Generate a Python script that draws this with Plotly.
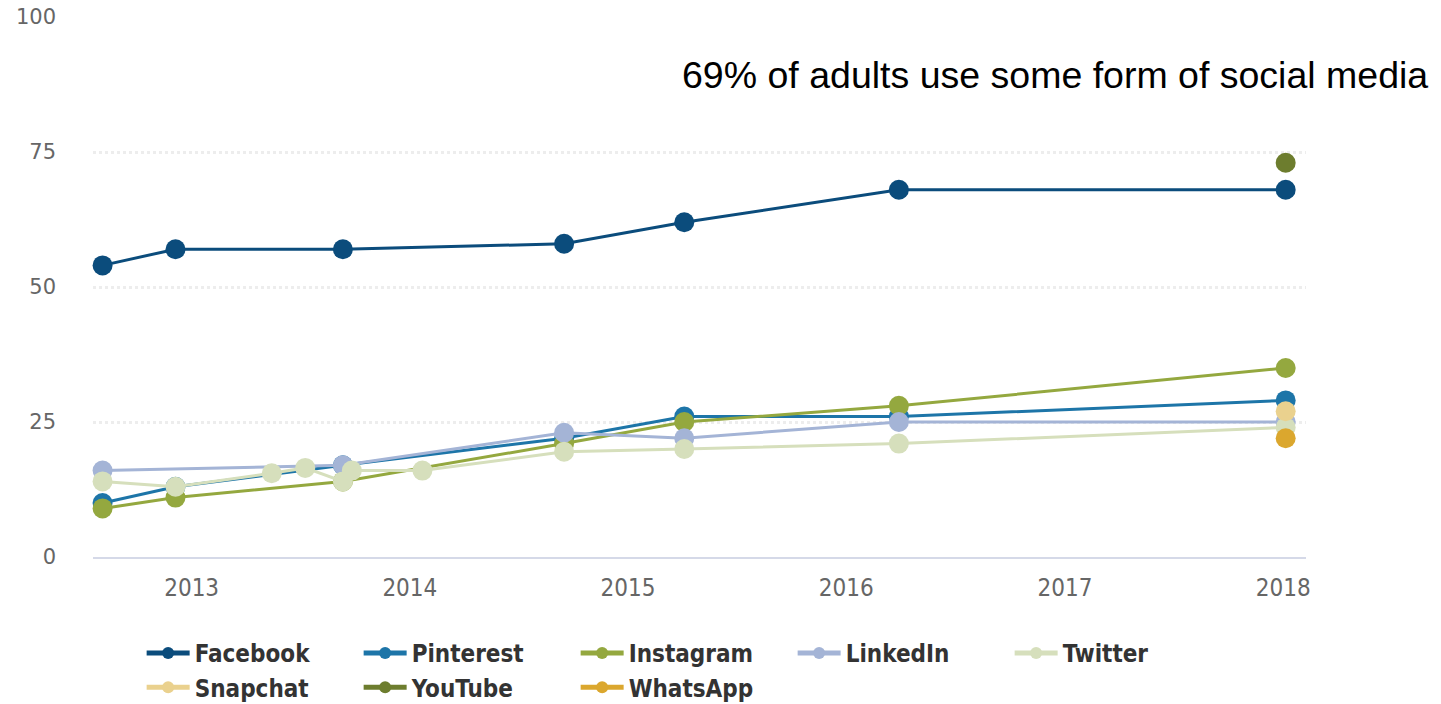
import plotly.graph_objects as go

# ---- data ----
main_dates = ["2012-08-05", "2012-12-05", "2013-09-11", "2014-09-16", "2015-04-05", "2016-03-29", "2018-01-05"]
facebook = [54, 57, 57, 58, 62, 68, 68]
pinterest = [10, 13, 17, 22, 26, 26, 29]
instagram = [9, 11, 14, 21, 25, 28, 35]

linkedin_dates = ["2012-08-05", "2013-09-11", "2014-09-16", "2015-04-05", "2016-03-29", "2018-01-05"]
linkedin = [16, 17, 23, 22, 25, 25]

twitter_dates = ["2012-08-05", "2012-12-05", "2013-05-15", "2013-07-10", "2013-09-11", "2013-09-26",
                 "2014-01-22", "2014-09-16", "2015-04-05", "2016-03-29", "2018-01-05"]
twitter = [14, 13, 15.5, 16.5, 14, 16, 16, 19.5, 20, 21, 24]

single_dates = ["2018-01-05"]
snapchat = [27]
youtube = [73]
whatsapp = [22]

year_ticks = ["2013-01-01", "2014-01-01", "2015-01-01", "2016-01-01", "2017-01-01", "2018-01-01"]
year_labels = ["2013", "2014", "2015", "2016", "2017", "2018"]
y_ticks = [0, 25, 50, 75, 100]

series = [
    ("Facebook", main_dates, facebook, "#0b4c7c"),
    ("Pinterest", main_dates, pinterest, "#1d75a8"),
    ("Instagram", main_dates, instagram, "#94a83f"),
    ("LinkedIn", linkedin_dates, linkedin, "#a4b4d6"),
    ("Twitter", twitter_dates, twitter, "#d6dfbc"),
    ("Snapchat", single_dates, snapchat, "#ead18e"),
    ("YouTube", single_dates, youtube, "#6d7d2e"),
    ("WhatsApp", single_dates, whatsapp, "#dba72e"),
]

fig = go.Figure()
for name, xs, ys, color in series:
    fig.add_trace(go.Scatter(
        x=xs, y=ys, name=name, mode="lines+markers",
        line=dict(color=color, width=3),
        marker=dict(color=color, size=20),
        cliponaxis=False,
    ))

fig.update_layout(
    width=1441, height=704,
    margin=dict(l=93, r=135, t=17, b=147, autoexpand=False),
    paper_bgcolor="white", plot_bgcolor="white",
    showlegend=True,
    legend=dict(
        orientation="h", x=0.0401, xanchor="left", y=-0.137, yanchor="top",
        font=dict(family="DejaVu Sans Condensed, DejaVu Sans", size=24, color="#333333", weight="bold"),
        entrywidth=159, entrywidthmode="pixels",
        itemwidth=43,
        itemsizing="constant",
    ),
    xaxis=dict(
        type="date",
        range=["2012-07-20", "2018-02-08"],
        tickvals=year_ticks, ticktext=year_labels,
        showgrid=False, zeroline=False,
        showline=True, linecolor="#d5d9e8", linewidth=2,
        ticks="", ticklabelstandoff=8,
        tickfont=dict(family="DejaVu Sans Condensed, DejaVu Sans", size=24, color="#666666"),
    ),
    yaxis=dict(
        range=[0, 100], tickvals=y_ticks,
        showgrid=True, gridcolor="#ededed", gridwidth=3, griddash="dot",
        zeroline=False, showline=False, ticks="",
        ticklabelstandoff=36,
        tickfont=dict(family="DejaVu Sans", size=21, color="#666666"),
    ),
    annotations=[dict(
        text="69% of adults use some form of social media",
        xref="paper", yref="paper",
        x=(1430 - 93) / 1213, y=(557 - 75) / 540,
        xanchor="right", yanchor="middle", showarrow=False,
        font=dict(family="Liberation Sans, Arial", size=37.5, color="black"),
    )],
)

fig.write_html("out.html")
